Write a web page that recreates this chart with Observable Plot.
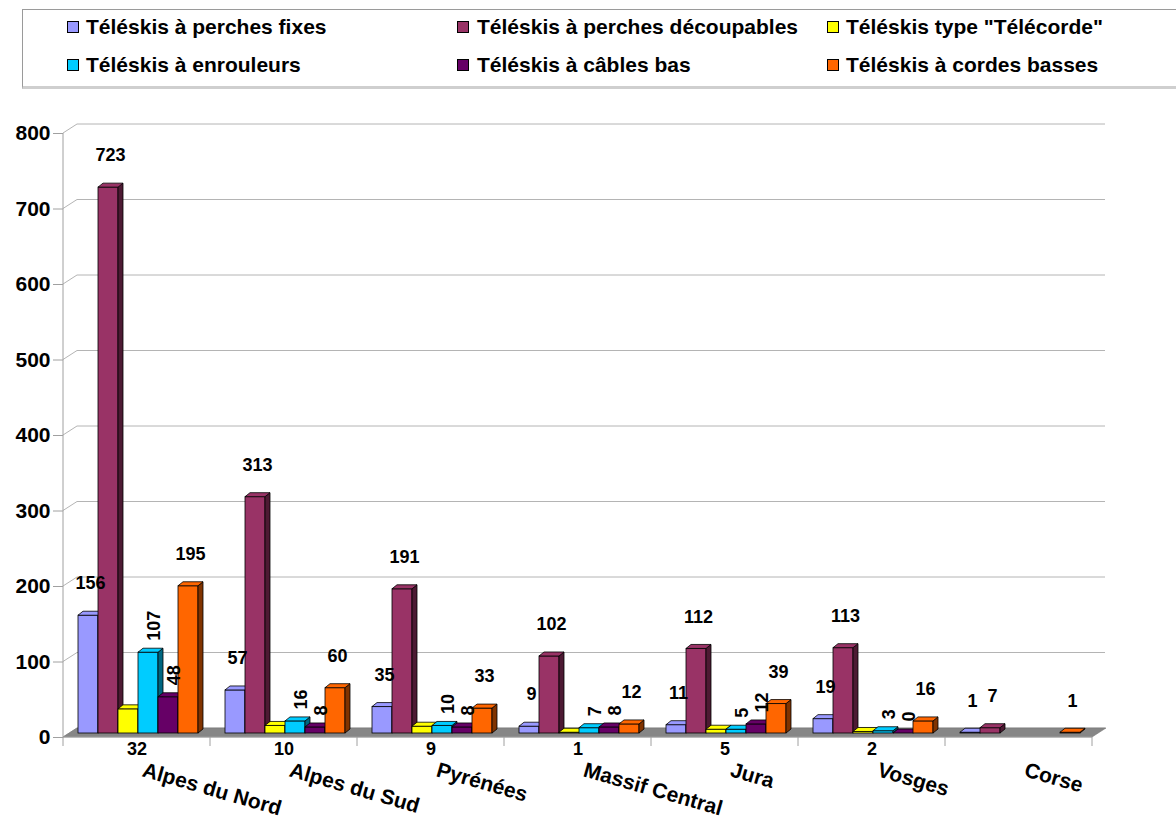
<!DOCTYPE html>
<html>
<head>
<meta charset="utf-8">
<script src="https://cdn.jsdelivr.net/npm/d3@7"></script>
<script src="https://cdn.jsdelivr.net/npm/@observablehq/plot@0.6"></script>
<style>
  body { margin: 0; background: #fff; font-family: "Liberation Sans", Arial, sans-serif; }
  #wrap { position: relative; width: 1176px; height: 818px; overflow: hidden; background: #fff; }
  #legend { position: relative; width: 1176px; height: 95px; }
  #legend .box { position: absolute; left: 22px; top: 9px; width: 1170px; height: 76px;
    border-top: 1px solid #9a9a9a; border-left: 1px solid #9a9a9a; border-bottom: 3px solid #cfcfcf; }
  .item { position: absolute; font-weight: bold; font-size: 21px; line-height: 22px; white-space: nowrap; color: #000; }
  .sw { position: absolute; width: 10px; height: 10px; border: 1px solid #000; }
  #chart svg { display: block; overflow: visible; }
</style>
</head>
<body>
<div id="wrap">
  <div id="legend"><div class="box"></div></div>
  <div id="chart"></div>
</div>
<script>
// ---- data ----
const regions = ["Alpes du Nord", "Alpes du Sud", "Pyrénées", "Massif Central", "Jura", "Vosges", "Corse"];
const series = [
  "Téléskis à perches fixes",
  "Téléskis à perches découpables",
  "Téléskis type \"Télécorde\"",
  "Téléskis à enrouleurs",
  "Téléskis à câbles bas",
  "Téléskis à cordes basses"
];
const colors = ["#9999ff", "#993366", "#ffff00", "#00ccff", "#660066", "#ff6600"];
const perchesFixes       = [156, 57, 35, 9, 11, 19, 1];
const perchesDecoupables = [723, 313, 191, 102, 112, 113, 7];
const telecorde          = [32, 10, 9, 1, 5, 2, null];
const enrouleurs         = [107, 16, 10, 7, 5, 3, null];
const cablesBas          = [48, 8, 8, 8, 12, 0, null];
const cordesBasses       = [195, 60, 33, 12, 39, 16, 1];
const yTicks = [0, 100, 200, 300, 400, 500, 600, 700, 800];

const seriesValues = [perchesFixes, perchesDecoupables, telecorde, enrouleurs, cablesBas, cordesBasses];
const rows = [];
seriesValues.forEach((vals, si) => vals.forEach((v, ri) => {
  if (v != null) rows.push({region: regions[ri], series: series[si], si, value: v});
}));

// ---- legend (HTML, above the svg) ----
const legend = document.getElementById("legend");
const colSw = [67, 457, 827], colTx = [86, 477, 846], rowCy = [27, 65];
series.forEach((s, i) => {
  const r = Math.floor(i / 3), c = i % 3;
  const sw = document.createElement("div");
  sw.className = "sw";
  sw.style.left = colSw[c] + "px";
  sw.style.top = (rowCy[r] - 6) + "px";
  sw.style.background = colors[i];
  legend.appendChild(sw);
  const t = document.createElement("div");
  t.className = "item";
  t.style.left = colTx[c] + "px";
  t.style.top = (rowCy[r] - 11) + "px";
  t.textContent = s;
  legend.appendChild(t);
});

// ---- layout constants ----
const W = 1176, H = 723, ML = 63, MR = 84, MT = 34, MB = 85;
const BW = (W - ML - MR) / regions.length; // band width
const IN = 15, BAR = 20;                   // inset of first bar, bar width
const DX = 5, DY = -4;                     // 3D depth of bars
const DXB = 14, DYB = -5, DYF = 4;         // back wall / front offsets

function shade(c, k) {
  const col = d3.rgb(c);
  return d3.rgb(col.r * k, col.g * k, col.b * k).formatHex();
}
const NS = "http://www.w3.org/2000/svg";
function poly(pts, fill) {
  const p = document.createElementNS(NS, "polygon");
  p.setAttribute("points", pts.map(q => q.join(",")).join(" "));
  p.setAttribute("fill", fill);
  p.setAttribute("stroke", "#000");
  p.setAttribute("stroke-width", 0.8);
  p.setAttribute("stroke-linejoin", "round");
  return p;
}
function render3d(side, top) {
  return function (index, scales, values, dims, ctx, next) {
    const g = next(index, scales, values, dims, ctx);
    for (const r of Array.from(g.querySelectorAll("rect"))) {
      const x = +r.getAttribute("x"), y = +r.getAttribute("y");
      const w = +r.getAttribute("width"), h = +(r.getAttribute("height") || 0);
      const parent = r.parentNode, nx = r.nextSibling;
      parent.insertBefore(poly([[x + w, y], [x + w + DX, y + DY], [x + w + DX, y + h + DY], [x + w, y + h]], side), nx);
      parent.insertBefore(poly([[x, y], [x + DX, y + DY], [x + w + DX, y + DY], [x + w, y]], top), nx);
    }
    return g;
  };
}

function decor(index, scales, values, dims) {
  const x0 = dims.marginLeft, x1 = dims.width - dims.marginRight;
  const base = scales.y(0), top = scales.y(800);
  const g = d3.create("svg:g");
  for (const i of index) {
    const y = values.y[i];
    g.append("line").attr("x1", x0 + DXB).attr("x2", x1 + DXB - 1).attr("y1", y + DYB).attr("y2", y + DYB)
      .attr("stroke", "#b4b4b4");
    g.append("line").attr("x1", x0).attr("x2", x0 + DXB).attr("y1", y + DYF).attr("y2", y + DYB)
      .attr("stroke", "#b4b4b4");
  }
  g.append("polygon")
    .attr("points", [[x0, base + DYF], [x1, base + DYF], [x1 + DXB, base + DYB], [x0 + DXB, base + DYB]].map(p => p.join(",")).join(" "))
    .attr("fill", "#868686").attr("stroke", "#777").attr("stroke-width", 0.6);
  g.append("line").attr("x1", x0).attr("x2", x1).attr("y1", base + DYF).attr("y2", base + DYF).attr("stroke", "#a0a0a0");
  g.append("line").attr("x1", x0).attr("x2", x0).attr("y1", top + DYF).attr("y2", base + DYF + 9).attr("stroke", "#a0a0a0");
  const bands = scales.x.domain().map(r => scales.x(r) + scales.x.bandwidth());
  for (const bx of bands) {
    g.append("line").attr("x1", bx).attr("x2", bx).attr("y1", base + DYF).attr("y2", base + DYF + 9).attr("stroke", "#a0a0a0");
  }
  return g.node();
}

const cx = i => IN + BAR * i + BAR / 2 - BW / 2; // bar centre relative to band centre

const marks = [Plot.ruleY(yTicks, {y: d => d, render: decor})];

series.forEach((s, i) => {
  marks.push(Plot.barY(rows.filter(d => d.si === i), {
    x: "region", y: "value", fill: colors[i], stroke: "#000", strokeWidth: 0.8,
    insetLeft: IN + BAR * i, insetRight: BW - IN - BAR * (i + 1),
    render: render3d(shade(colors[i], 0.5), colors[i])
  }));
});

const labelFont = {fontSize: 18, fontWeight: "bold", fill: "#000"};
series.forEach((s, i) => {
  const data = rows.filter(d => d.si === i);
  if (i === 2) {
    marks.push(Plot.text(data, {x: "region", frameAnchor: "bottom", text: d => String(d.value), dy: 21, ...labelFont}));
  } else if (i === 3 || i === 4) {
    marks.push(Plot.text(data, {x: "region", y: "value", text: d => String(d.value), rotate: -90,
      textAnchor: "start", dx: cx(i) + 6, dy: -12, ...labelFont}));
  } else {
    marks.push(Plot.text(data, {x: "region", y: "value", text: d => String(d.value),
      dx: cx(i) + 2, dy: -32, ...labelFont}));
  }
});

marks.push(Plot.axisY(yTicks, {tickSize: 10, tickPadding: 3, dy: DYF, fontSize: 21, fontWeight: "bold",
  stroke: "#a0a0a0", fill: "#000", tickFormat: d => String(d)}));
marks.push(Plot.axisX({tickSize: 0, tickRotate: 16, tickPadding: 36, dx: 6, fontSize: 21, fontWeight: "bold", fill: "#000"}));

const chart = Plot.plot({
  width: W, height: H,
  marginLeft: ML, marginRight: MR, marginTop: MT, marginBottom: MB,
  x: {domain: regions, padding: 0, label: null},
  y: {domain: [0, 800], label: null},
  style: {fontFamily: "'Liberation Sans', Arial, sans-serif", background: "transparent", overflow: "visible"},
  marks
});
document.getElementById("chart").appendChild(chart);
</script>
</body>
</html>
